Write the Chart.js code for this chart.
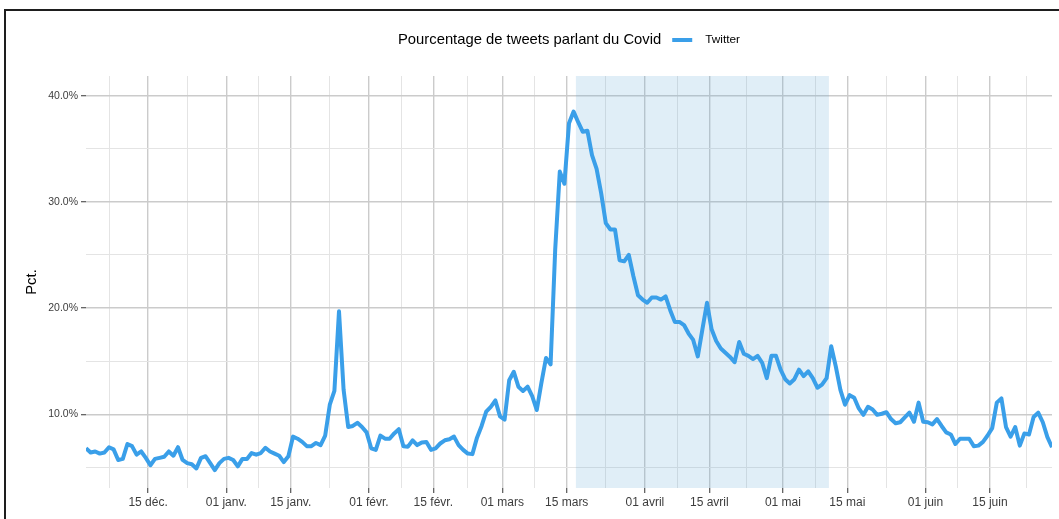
<!DOCTYPE html>
<html>
<head>
<meta charset="utf-8">
<script src="https://cdn.jsdelivr.net/npm/chart.js@4.4.0/dist/chart.umd.min.js"></script>
<style>
  html, body { margin: 0; padding: 0; background: #fff; overflow: hidden; }
  #wrap { position: relative; width: 1059px; height: 519px; }
  #frame { position: absolute; left: 4px; top: 9px; width: 2000px; height: 2000px;
           border-top: 2px solid #1e1e1e; border-left: 2px solid #1e1e1e; pointer-events: none; }
</style>
</head>
<body>
<div id="wrap">
  <canvas id="chart" width="1059" height="519"></canvas>
  <div id="frame"></div>
</div>
<script>
// jour 0 = 1er décembre 2019, une valeur par jour jusqu'au 28 juin 2020
const twitterPct = [
  6.8, 6.4, 6.5, 6.3, 6.4, 6.9, 6.7, 5.7, 5.8, 7.2,
  7.0, 6.2, 6.5, 5.9, 5.2, 5.8, 5.9, 6.0, 6.5, 6.1,
  6.9, 5.7, 5.4, 5.3, 4.9, 5.9, 6.05, 5.4, 4.75, 5.4,
  5.8, 5.9, 5.7, 5.1, 5.8, 5.8, 6.35, 6.2, 6.35, 6.85,
  6.5, 6.3, 6.1, 5.5, 6.05, 7.9, 7.7, 7.4, 7.0, 7.0,
  7.3, 7.1, 8.0, 10.9, 12.2, 19.7, 12.3, 8.8, 8.9, 9.2,
  8.8, 8.3, 6.8, 6.65, 8.0, 7.7, 7.7, 8.2, 8.6, 7.0,
  6.95, 7.55, 7.1, 7.35, 7.4, 6.65, 6.8, 7.25, 7.55, 7.65,
  7.9, 7.1, 6.65, 6.3, 6.25, 7.8, 8.9, 10.25, 10.7, 11.3,
  9.8, 9.5, 13.2, 14.0, 12.6, 12.2, 12.6, 11.7, 10.4, 12.95,
  15.3, 14.7, 25.5, 32.85, 31.7, 37.4, 38.5, 37.5, 36.6, 36.7,
  34.4, 33.1, 30.8, 28.0, 27.4, 27.4, 24.5, 24.4, 25.0, 23.0,
  21.2, 20.8, 20.5, 21.0, 21.0, 20.8, 21.1, 19.8, 18.7, 18.7,
  18.4, 17.6, 17.0, 15.45, 18.0, 20.5, 18.0, 16.9, 16.2, 15.8,
  15.4, 14.9, 16.8, 15.7, 15.5, 15.2, 15.5, 14.85, 13.4, 15.5,
  15.5, 14.2, 13.3, 12.9, 13.3, 14.2, 13.6, 14.05, 13.4, 12.5,
  12.8, 13.4, 16.4, 14.5, 12.3, 10.9, 11.8, 11.55, 10.55, 9.95,
  10.7, 10.45, 9.95, 10.05, 10.2, 9.55, 9.15, 9.25, 9.7, 10.15,
  9.3, 11.1, 9.3, 9.25, 9.05, 9.55, 8.9, 8.3, 8.1, 7.2,
  7.7, 7.7, 7.7, 7.0, 7.05, 7.4, 8.0, 8.7, 11.1, 11.5,
  8.8, 7.9, 8.8, 7.05, 8.2, 8.1, 9.75, 10.15, 9.25, 7.85,
  6.9
];

// graduations de l'axe des dates (en jours depuis le 1er déc.)
const dayTicks = [14, 31, 45, 62, 76, 91, 105, 122, 136, 152, 166, 183, 197];
const dayTickLabels = ['15 déc.', '01 janv.', '15 janv.', '01 févr.', '15 févr.', '01 mars',
  '15 mars', '01 avril', '15 avril', '01 mai', '15 mai', '01 juin', '15 juin'];
const dayMinorTicks = [5.5, 22.5, 38, 53.5, 69, 83.5, 98, 113.5, 129, 144, 159, 174.5, 190, 205];

const pctTicks = [10, 20, 30, 40];
const pctMinorTicks = [5, 15, 25, 35];

// confinement : 17 mars -> 11 mai
const confinement = [107, 162];

const legendTitle = 'Pourcentage de tweets parlant du Covid';
const seriesName = 'Twitter';

const FONT = '"Liberation Sans", Arial, sans-serif';
const lineColor = '#3a9fe9';
const majorGrid = '#cbcbcb';
const minorGrid = '#e4e4e4';

Chart.defaults.font.family = FONT;

const points = twitterPct.map((v, i) => ({ x: i + 0.5, y: v }));

function gridOpts(majors) {
    return {
        color: c => (c.tick && majors.includes(c.tick.value)) ? majorGrid : minorGrid,
        lineWidth: c => (c.tick && majors.includes(c.tick.value)) ? 1.4 : 1,
        tickColor: c => (c.tick && majors.includes(c.tick.value)) ? '#555' : 'rgba(0,0,0,0)',
        tickLength: 5,
        tickWidth: 1.2
    };
}

// zone grisée du confinement, sous la courbe
const shadePlugin = {
    id: 'shade',
    beforeDatasetsDraw(chart) {
        const { ctx, chartArea, scales } = chart;
        const x0 = scales.x.getPixelForValue(confinement[0]);
        const x1 = scales.x.getPixelForValue(confinement[1]);
        ctx.save();
        ctx.fillStyle = 'rgba(100, 170, 215, 0.2)';
        ctx.fillRect(x0, chartArea.top, x1 - x0, chartArea.bottom - chartArea.top);
        ctx.restore();
    }
};

// légende façon ggplot : titre + trait + libellé sur une ligne
const legendPlugin = {
    id: 'inlineLegend',
    afterDraw(chart) {
        const ctx = chart.ctx;
        ctx.save();
        ctx.textBaseline = 'middle';
        ctx.fillStyle = '#000';
        ctx.font = `14.8px ${FONT}`;
        const x = 398, y = 40;
        ctx.fillText(legendTitle, x, y);
        const w = ctx.measureText(legendTitle).width;
        ctx.strokeStyle = lineColor;
        ctx.lineWidth = 4;
        ctx.beginPath();
        ctx.moveTo(x + w + 11, y);
        ctx.lineTo(x + w + 31, y);
        ctx.stroke();
        ctx.font = `11.8px ${FONT}`;
        ctx.fillStyle = '#000';
        ctx.fillText(seriesName, x + w + 44, y);
        ctx.restore();
    }
};

new Chart(document.getElementById('chart').getContext('2d'), {
    type: 'line',
    data: {
        datasets: [{
            label: seriesName,
            data: points,
            borderColor: lineColor,
            borderWidth: 4,
            pointRadius: 0,
            tension: 0,
            borderJoinStyle: 'round',
            fill: false
        }]
    },
    options: {
        responsive: false,
        animation: false,
        layout: { padding: { top: 76, right: 7, left: 0, bottom: 0 } },
        plugins: {
            legend: { display: false },
            tooltip: { enabled: false }
        },
        scales: {
            x: {
                type: 'linear',
                min: 0.5,
                max: 210.5,
                afterBuildTicks: s => {
                    s.ticks = [...dayTicks, ...dayMinorTicks].sort((a, b) => a - b).map(v => ({ value: v }));
                },
                afterFit: s => { s.height = 31; },
                border: { display: false },
                grid: gridOpts(dayTicks),
                ticks: {
                    autoSkip: false,
                    maxRotation: 0,
                    minRotation: 0,
                    padding: 2,
                    color: '#3d3d3d',
                    font: { family: FONT, size: 12 },
                    callback: v => {
                        const i = dayTicks.indexOf(v);
                        return i >= 0 ? dayTickLabels[i] : '';
                    }
                }
            },
            y: {
                min: 3.06,
                max: 41.85,
                afterBuildTicks: s => {
                    s.ticks = [...pctMinorTicks, ...pctTicks].sort((a, b) => a - b).map(v => ({ value: v }));
                },
                afterFit: s => { s.width = 86; },
                border: { display: false },
                grid: gridOpts(pctTicks),
                ticks: {
                    padding: 3,
                    color: '#3d3d3d',
                    font: { family: FONT, size: 10.5 },
                    callback: v => pctTicks.includes(v) ? v.toFixed(1) + '%' : ''
                },
                title: {
                    display: true,
                    text: 'Pct.',
                    color: '#000',
                    font: { family: FONT, size: 14.8 },
                    padding: { top: 23, bottom: 0 }
                }
            }
        }
    },
    plugins: [shadePlugin, legendPlugin]
});
</script>
</body>
</html>
